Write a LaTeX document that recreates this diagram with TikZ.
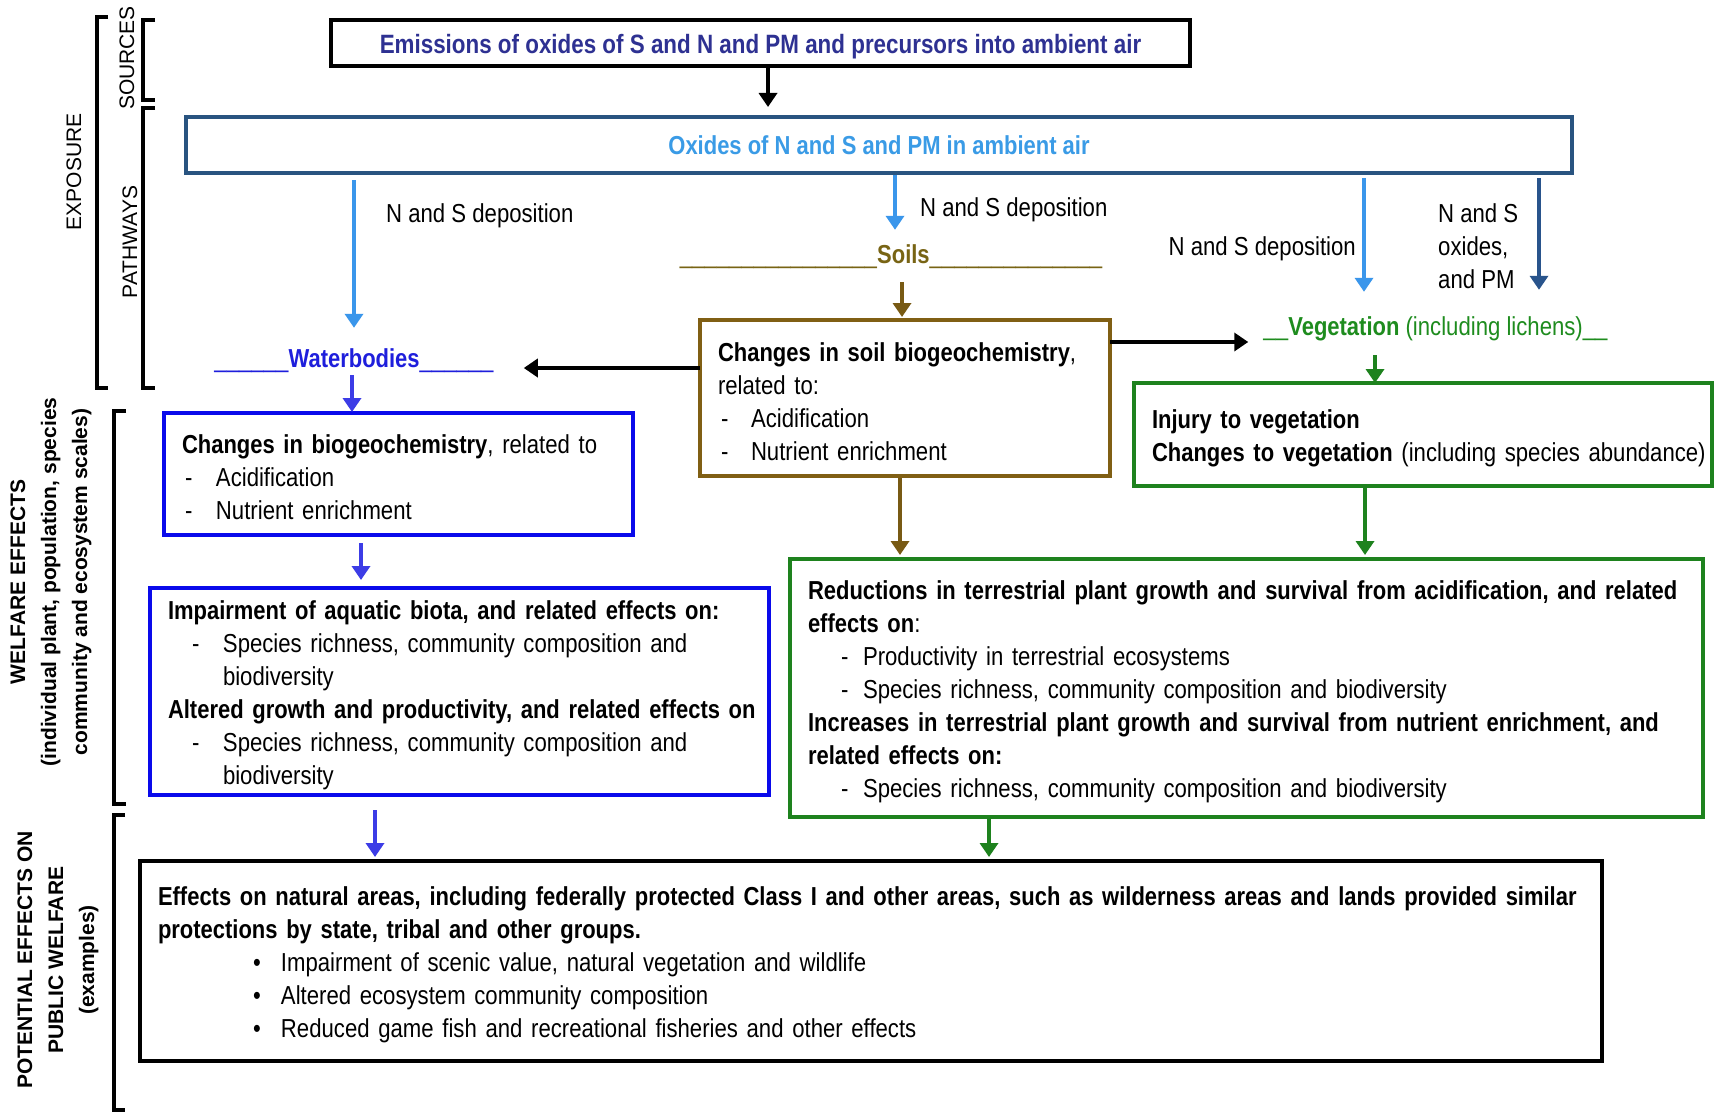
\documentclass[tikz,border=0pt]{standalone}
\usepackage{fontspec}
\setmainfont{Liberation Sans}[UprightFeatures={FakeStretch=0.852}, BoldFeatures={FakeStretch=0.845}]
\newfontfamily\sidefont{Liberation Sans}
\usetikzlibrary{arrows.meta,calc}

\definecolor{titleblue}{RGB}{46,49,146}
\definecolor{oxborder}{RGB}{41,84,128}
\definecolor{oxtext}{RGB}{58,155,230}
\definecolor{lblue}{RGB}{58,150,235}
\definecolor{dblue}{RGB}{41,84,140}
\definecolor{wblue}{RGB}{30,30,220}
\definecolor{boxblue}{RGB}{10,10,235}
\definecolor{arrblue}{RGB}{60,60,230}
\definecolor{soiltext}{RGB}{120,100,20}
\definecolor{soilbox}{RGB}{128,95,20}
\definecolor{soilarr}{RGB}{120,90,20}
\definecolor{vegtext}{RGB}{30,140,30}
\definecolor{vegbox}{RGB}{30,130,30}

\newcommand{\bodyfont}{\fontsize{26pt}{33pt}\selectfont}
\newcommand{\sidefnt}{\sidefont\fontsize{21pt}{31pt}\selectfont}
\newcommand{\dli}[3]{\mbox{\hspace*{#1}\makebox[#2][l]{-}#3}}
\newcommand{\bli}[1]{\mbox{\hspace*{95pt}\makebox[28pt][l]{\textbullet}#1}}
\newcommand{\topst}{\rule{0pt}{26pt}}

\begin{document}
\begin{tikzpicture}[x=1pt,y=-1pt,
  box/.style={draw, line width=4pt, outer sep=0pt, inner xsep=18pt, inner ysep=0pt, align=left, font=\bodyfont},
  lbl/.style={inner sep=0pt, font=\bodyfont, text height=19pt, text depth=6pt},
  plain/.style={inner sep=0pt, font=\bodyfont},
  arr/.style={line width=3.5pt, -{Triangle[length=14pt,width=18pt]}},
  brk/.style={line width=4pt, line cap=butt, line join=miter},
  side/.style={font=\sidefnt, inner sep=0pt, align=center},
  sideb/.style={font=\sidefnt\bfseries, inner sep=0pt, align=center}
]
\useasboundingbox (0,0) rectangle (1715,1113);
\fill[white] (0,0) rectangle (1715,1113);

% ---- side labels and brackets
\node[side, rotate=90] (exposure) at (74,172) {EXPOSURE};
\node[side, rotate=90] (sources) at (127,58) {SOURCES};
\node[side, rotate=90] (pathways) at (130,242) {PATHWAYS};
\node[sideb, rotate=90] (welfare) at (51,582) {WELFARE EFFECTS\\(individual plant, population, species\\community and ecosystem scales)};
\node[sideb, rotate=90] (potential) at (58,960) {POTENTIAL EFFECTS ON\\PUBLIC WELFARE\\(examples)};

\draw[brk] (108,17) -- (97,17) -- (97,388) -- (108,388);
\draw[brk] (155,20) -- (143,20) -- (143,100) -- (155,100);
\draw[brk] (155,108) -- (143,108) -- (143,388) -- (155,388);
\draw[brk] (126,411) -- (114,411) -- (114,804) -- (126,804);
\draw[brk] (125,815) -- (114,815) -- (114,1110) -- (125,1110);

% ---- boxes
\node[box, minimum width=859pt, minimum height=46pt, align=center, text=titleblue] (emis) at (760.5,43)
  {\topst\textbf{\fontsize{26.5pt}{33pt}\selectfont Emissions of oxides of S and N and PM and precursors into ambient air}};
\node[box, draw=oxborder, minimum width=1386pt, minimum height=56pt, align=center, text=oxtext] (oxides) at (879,145)
  {\textbf{Oxides of N and S and PM in ambient air}};

\node[box, draw=soilbox, text width=374pt, minimum height=156pt] (soilbox) at (905,398)
  {\topst\textbf{Changes in soil biogeochemistry},\\
   related to:\\
   \dli{3pt}{30pt}{Acidification}\\
   \dli{3pt}{30pt}{Nutrient enrichment}};

\node[box, draw=boxblue, text width=433pt, minimum height=122pt] (biobox) at (398.5,474)
  {\topst\mbox{\textbf{Changes in biogeochemistry}, related to}\\
   \dli{3pt}{31pt}{Acidification}\\
   \dli{3pt}{31pt}{Nutrient enrichment}};

\node[box, draw=boxblue, text width=583pt, minimum height=207pt] (aqbox) at (459.5,691.5)
  {\topst\mbox{\textbf{Impairment of aquatic biota, and related effects on:}}\\
   \dli{24pt}{31pt}{Species richness, community composition and}\\
   \hspace*{55pt}biodiversity\\
   \mbox{\textbf{Altered growth and productivity, and related effects on}}\\
   \dli{24pt}{31pt}{Species richness, community composition and}\\
   \hspace*{55pt}biodiversity};

\node[box, draw=vegbox, text width=542pt, minimum height=103pt] (vegbox) at (1423,434.5)
  {\topst\textbf{Injury to vegetation}\\
   \mbox{\textbf{Changes to vegetation} (including species abundance)}};

\node[box, draw=vegbox, text width=877pt, minimum height=258pt] (terrbox) at (1246.5,688)
  {\topst\mbox{\textbf{Reductions in terrestrial plant growth and survival from acidification, and related}}\\
   \textbf{effects on}:\\
   \dli{33pt}{22pt}{Productivity in terrestrial ecosystems}\\
   \dli{33pt}{22pt}{Species richness, community composition and biodiversity}\\
   \mbox{\textbf{Increases in terrestrial plant growth and survival from nutrient enrichment, and}}\\
   \textbf{related effects on:}\\
   \dli{33pt}{22pt}{Species richness, community composition and biodiversity}};

\node[box, text width=1426pt, minimum height=200pt] (effbox) at (871,961)
  {\topst\mbox{\textbf{Effects on natural areas, including federally protected Class I and other areas, such as wilderness areas and lands provided similar}}\\
   \mbox{\textbf{protections by state, tribal and other groups.}}\\
   \bli{Impairment of scenic value, natural vegetation and wildlife}\\
   \bli{Altered ecosystem community composition}\\
   \bli{Reduced game fish and recreational fisheries and other effects}};

% ---- compartment labels
\node[lbl, text=wblue, anchor=base] (waterlbl) at (354,367)
  {\_\_\_\_\_\_\textbf{Waterbodies}\_\_\_\_\_\_};
\node[lbl, text=soiltext, anchor=base] (soilslbl) at (891,263)
  {\_\_\_\_\_\_\_\_\_\_\_\_\_\_\_\_\textbf{Soils}\_\_\_\_\_\_\_\_\_\_\_\_\_\_};
\node[lbl, text=vegtext, anchor=base] (veglbl) at (1435.5,335)
  {\_\_\textbf{Vegetation} (including lichens)\_\_};

% ---- arrow labels
\node[plain, anchor=base west] (dep1) at (386,222) {N and S deposition};
\node[plain, anchor=base west] (dep2) at (920,216) {N and S deposition};
\node[plain, anchor=base east] (dep3) at (1356,255) {N and S deposition};
\node[plain, anchor=north west, align=left] (dep4) at (1438,203) {N and S\\oxides,\\and PM};

% ---- connectors
\draw[arr, black, shorten <=2pt, shorten >=10pt] ([xshift=7.5pt]emis.south) -- ([xshift=7.5pt]emis.south |- oxides.north);
\draw[arr, lblue, shorten <=7pt, shorten >=20pt] (oxides.south -| waterlbl.north) -- (waterlbl.north);
\draw[arr, lblue, shorten <=2pt, shorten >=14pt] ([xshift=4pt]soilslbl.north |- oxides.south) -- ([xshift=4pt]soilslbl.north);
\draw[arr, lblue, shorten <=5pt, shorten >=24pt] ([xshift=-71.5pt]veglbl.north |- oxides.south) -- ([xshift=-71.5pt]veglbl.north);
\draw[arr, dblue, shorten <=5pt, shorten >=26pt] ([xshift=103.5pt]veglbl.north |- oxides.south) -- ([xshift=103.5pt]veglbl.north);

\draw[arr, soilarr, shorten <=13pt, shorten >=3pt] ([xshift=11pt]soilslbl.south) -- ([xshift=11pt]soilslbl.south |- soilbox.north);
\draw[arr, black, shorten >=15pt] ([yshift=56pt]soilbox.east) -- ([yshift=56pt]soilbox.east -| veglbl.west);
\draw[arr, black, shorten >=30pt] ([yshift=30pt]soilbox.west) -- ([yshift=30pt]soilbox.west -| waterlbl.east);

\draw[arr, arrblue, shorten <=2pt, shorten >=1pt] ([xshift=-2pt]waterlbl.south) -- ([xshift=-2pt]waterlbl.south |- biobox.north);
\draw[arr, arrblue, shorten <=8pt, shorten >=8pt] ([xshift=-37.5pt]biobox.south) -- ([xshift=-37.5pt]biobox.south |- aqbox.north);
\draw[arr, arrblue, shorten <=15pt, shorten >=4pt] ([xshift=-84.5pt]aqbox.south) -- ([xshift=-84.5pt]aqbox.south |- effbox.north);

\draw[arr, vegbox, shorten <=14pt, shorten >=0pt] ([xshift=-60.5pt]veglbl.south) -- ([xshift=-60.5pt]veglbl.south |- vegbox.north);
\draw[arr, soilarr, shorten <=2pt, shorten >=4pt] ([xshift=-5pt]soilbox.south) -- ([xshift=-5pt]soilbox.south |- terrbox.north);
\draw[arr, vegbox, shorten <=1pt, shorten >=4pt] ([xshift=-58pt]vegbox.south) -- ([xshift=-58pt]vegbox.south |- terrbox.north);
\draw[arr, vegbox, shorten <=1pt, shorten >=4pt] ([xshift=-257.5pt]terrbox.south) -- ([xshift=-257.5pt]terrbox.south |- effbox.north);
\end{tikzpicture}
\end{document}
